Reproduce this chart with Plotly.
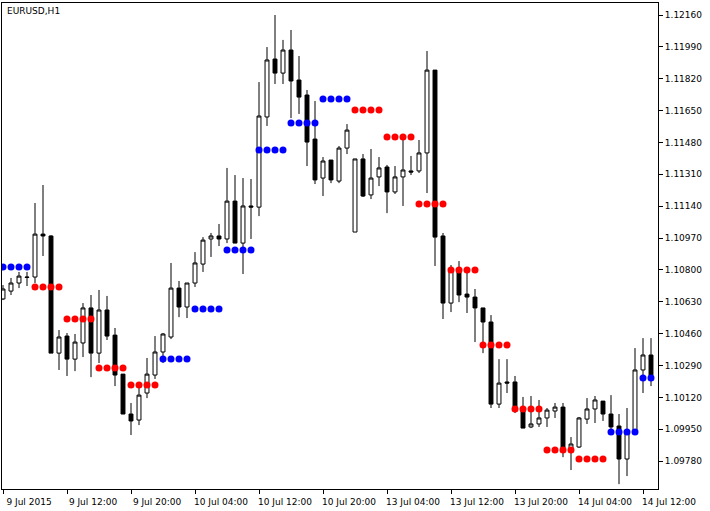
import plotly.graph_objects as go

opens = [1.10645,1.10687,1.10730,1.10762,1.10762,1.10991,1.10981,1.10356,1.10447,1.10324,
         1.10410,1.10597,1.10356,1.10586,1.10452,1.10244,1.10031,1.09999,1.10143,1.10239,
         1.10362,1.10442,1.10703,1.10602,1.10730,1.10831,1.10965,1.10981,1.10965,1.11167,
         1.10943,1.11141,1.11135,1.11616,1.11925,1.11850,1.11973,1.11813,1.11733,1.11498,
         1.11290,1.11386,1.11274,1.11450,1.11002,1.11392,1.11200,1.11296,1.11349,1.11216,
         1.11296,1.11328,1.11328,1.11424,1.11866,1.10981,1.10623,1.10799,1.10671,1.10655,
         1.10597,1.10522,1.10084,1.10202,1.10202,1.10052,1.09962,1.09978,1.10010,1.10047,
         1.10068,1.09828,1.09855,1.10004,1.10058,1.10100,1.10031,1.09967,1.09791,1.09930,
         1.10266,1.10346]
highs = [1.10719,1.10757,1.10789,1.10789,1.11157,1.11253,1.10985,1.10479,1.10463,1.10458,
         1.10623,1.10666,1.10693,1.10661,1.10490,1.10244,1.10090,1.10170,1.10330,1.10447,
         1.10463,1.10837,1.10741,1.10730,1.10895,1.10975,1.10997,1.11045,1.11344,1.11306,
         1.11290,1.11285,1.11802,1.11989,1.12160,1.12027,1.12080,1.11941,1.11760,1.11701,
         1.11402,1.11386,1.11461,1.11578,1.11392,1.11418,1.11445,1.11402,1.11360,1.11354,
         1.11493,1.11408,1.11493,1.11968,1.11866,1.10997,1.10826,1.10847,1.10799,1.10698,
         1.10597,1.10559,1.10324,1.10324,1.10234,1.10122,1.10127,1.10106,1.10063,1.10090,
         1.10090,1.09908,1.10015,1.10116,1.10127,1.10100,1.10132,1.10031,1.10063,1.10383,
         1.10436,1.10436]
lows = [1.10639,1.10666,1.10703,1.10714,1.10730,1.10874,1.10356,1.10266,1.10234,1.10260,
        1.10335,1.10228,1.10303,1.10426,1.10180,1.10031,1.09919,1.09972,1.10116,1.10218,
        1.10303,1.10431,1.10548,1.10543,1.10709,1.10789,1.10869,1.10927,1.10943,1.10943,
        1.10778,1.10965,1.11087,1.11568,1.11792,1.11792,1.11610,1.11632,1.11354,1.11258,
        1.11194,1.11263,1.11263,1.11418,1.11002,1.11189,1.11178,1.11247,1.11103,1.11205,
        1.11141,1.11306,1.11317,1.11210,1.10821,1.10538,1.10575,1.10628,1.10570,1.10415,
        1.10356,1.10063,1.10063,1.10143,1.10036,1.09956,1.09956,1.09962,1.09962,1.10010,
        1.09801,1.09732,1.09850,1.09978,1.09983,1.09994,1.09951,1.09657,1.09700,1.09930,
        1.10143,1.10180]
closes = [1.10698,1.10730,1.10767,1.10760,1.10991,1.10981,1.10356,1.10442,1.10324,1.10415,
          1.10597,1.10356,1.10586,1.10447,1.10239,1.10031,1.09994,1.10132,1.10244,1.10362,
          1.10458,1.10703,1.10602,1.10730,1.10837,1.10959,1.10981,1.10965,1.11167,1.10943,
          1.11141,1.11135,1.11621,1.11920,1.11850,1.11973,1.11808,1.11722,1.11482,1.11280,
          1.11381,1.11280,1.11450,1.11546,1.11392,1.11194,1.11290,1.11344,1.11216,1.11296,
          1.11333,1.11322,1.11424,1.11866,1.10975,1.10623,1.10799,1.10666,1.10655,1.10597,
          1.10522,1.10084,1.10196,1.10196,1.10052,1.09956,1.09978,1.10010,1.10052,1.10068,
          1.09828,1.09871,1.10010,1.10058,1.10106,1.10031,1.09962,1.09791,1.09930,1.10266,
          1.10346,1.10228]

# indicator dots: level per bar and side (1 = blue / support, -1 = red / resistance)
dot_levels = [1.10815]*4 + [1.10709]*4 + [1.10538]*4 + [1.10276]*4 + [1.10186]*4 + \
             [1.10324]*4 + [1.10591]*4 + [1.10906]*4 + [1.11440]*4 + [1.11584]*4 + \
             [1.11712]*4 + [1.11653]*4 + [1.11509]*4 + [1.11151]*4 + [1.10799]*4 + \
             [1.10399]*4 + [1.10058]*4 + [1.09839]*4 + [1.09791]*4 + [1.09935]*4 + [1.10223]*2
dot_sides = [1]*4 + [-1]*16 + [1]*24 + [-1]*32 + [1]*6

tick_labels = ["9 Jul 2015","9 Jul 12:00","9 Jul 20:00","10 Jul 04:00","10 Jul 12:00",
               "10 Jul 20:00","13 Jul 04:00","13 Jul 12:00","13 Jul 20:00","14 Jul 04:00","14 Jul 12:00"]
price_ticks = [1.12160,1.11990,1.11820,1.11650,1.11480,1.11310,1.11140,1.10970,
               1.10800,1.10630,1.10460,1.10290,1.10120,1.09950,1.09780]

idx = list(range(len(opens)))
fig = go.Figure()
fig.add_trace(go.Candlestick(
    x=idx, open=opens, high=highs, low=lows, close=closes,
    increasing=dict(line=dict(color="black", width=1), fillcolor="white"),
    decreasing=dict(line=dict(color="black", width=1), fillcolor="black"),
    whiskerwidth=0, showlegend=False, hoverinfo="skip"))
blue_y = [v if s == 1 else None for v, s in zip(dot_levels, dot_sides)]
red_y = [v if s == -1 else None for v, s in zip(dot_levels, dot_sides)]
fig.add_trace(go.Scatter(x=idx, y=blue_y, mode="markers",
                         marker=dict(color="#0000ff", size=7), showlegend=False))
fig.add_trace(go.Scatter(x=idx, y=red_y, mode="markers",
                         marker=dict(color="#ff0000", size=7), showlegend=False))

font = dict(family="DejaVu Sans", size=9, color="black")
fig.update_layout(
    width=710, height=511, margin=dict(l=2, r=52, t=3, b=22),
    paper_bgcolor="white", plot_bgcolor="white", font=font,
    xaxis=dict(range=[-0.125, 81.875], rangeslider=dict(visible=False),
               tickmode="array", tickvals=list(range(0, 81, 8)), ticktext=tick_labels,
               ticks="outside", ticklen=4, tickcolor="black", showgrid=False,
               showline=True, linecolor="black", linewidth=1, mirror=True,
               zeroline=False, ticklabelshift=26, ticklabelstandoff=0, tickfont=font),
    yaxis=dict(range=[1.09631, 1.12224], side="right", tickmode="array",
               tickvals=price_ticks, ticktext=[f"{v:.5f}" for v in price_ticks],
               ticks="outside", ticklen=4, tickcolor="black", showgrid=False,
               showline=True, linecolor="black", linewidth=1, mirror=True,
               zeroline=False, tickfont=font),
)
fig.add_annotation(text="EURUSD,H1", xref="paper", yref="paper", x=0.005, y=0.997,
                   xanchor="left", yanchor="top", showarrow=False, font=font)
html = fig.to_html(full_html=True, include_plotlyjs=True,
                   config={"displayModeBar": False})
html = html.replace("<body>", '<body style="margin:0;padding:0;overflow:hidden">', 1)
with open("out.html", "w", encoding="utf-8") as f:
    f.write(html)
